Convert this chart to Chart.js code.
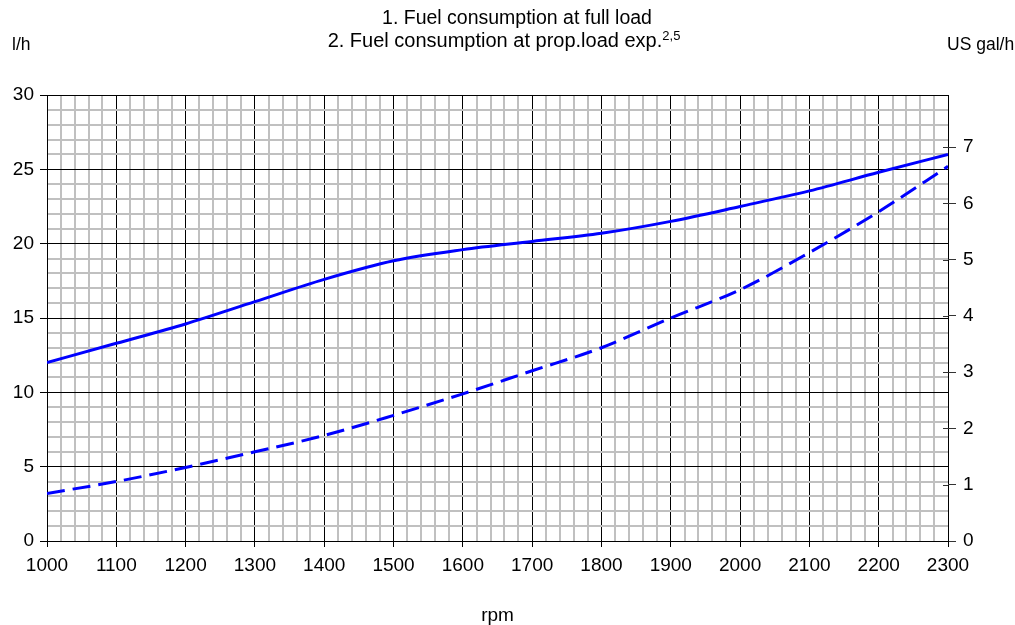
<!DOCTYPE html>
<html>
<head>
<meta charset="utf-8">
<script src="https://cdn.jsdelivr.net/npm/chart.js@4"></script>
<style>
  html, body { margin: 0; padding: 0; background: #fff; }
  #wrap { position: relative; width: 1015px; height: 625px; overflow: hidden; font-family: "Liberation Sans", Arial, sans-serif; color: #000; }
  #c { position: absolute; left: 0; top: 0; }
  .lbl { position: absolute; white-space: nowrap; font-size: 19.5px; line-height: 24px; }
  .l2 { font-size: 20px; }
  .unit { font-size: 17.5px; }
  .ctr { transform: translateX(-50%); }
  sup { font-size: 13px; vertical-align: 7px; line-height: 0; }
</style>
</head>
<body>
<div id="wrap">
  <canvas id="c" width="1015" height="625"></canvas>
  <div class="lbl ctr" style="left:517px; top:5px;">1. Fuel consumption at full load</div>
  <div class="lbl l2 ctr" style="left:504px; top:28px;">2. Fuel consumption at prop.load exp.<sup>2,5</sup></div>
  <div class="lbl unit" style="left:12px; top:32px;">l/h</div>
  <div class="lbl unit" style="left:947px; top:32px;">US gal/h</div>
</div>
<script>
// ---- data ----
const rpm = [1000, 1100, 1200, 1300, 1400, 1500, 1600, 1700, 1800, 1900, 2000, 2100, 2200, 2300];
const fullLoad = [12.0, 13.3, 14.6, 16.1, 17.6, 18.85, 19.6, 20.15, 20.7, 21.5, 22.5, 23.55, 24.8, 26.0];
const propLoad = [3.2, 4.0, 4.95, 6.0, 7.1, 8.45, 9.9, 11.45, 13.0, 15.0, 16.9, 19.4, 22.15, 25.2];
const litresPerGallon = 3.785;
const xMin = 1000, xMax = 2300, xMajor = 100, xMinor = 20;
const yMin = 0, yMax = 30, yMajor = 5, yMinor = 1;

const FONT = { family: "'Liberation Sans', Arial, sans-serif", size: 19 };
const MINOR = '#c0c0c0', MAJOR = '#000000';

function pts(ys) { return rpm.map((x, i) => ({ x: x, y: ys[i] })); }

const innerTicks = {
  id: 'innerTicks',
  afterDraw(chart) {
    const s = chart.scales.y2, ctx = chart.ctx, r = chart.chartArea.right;
    ctx.save();
    ctx.strokeStyle = '#333';
    ctx.lineWidth = 1;
    s.ticks.forEach(t => {
      if (t.value === 0) return;
      const y = Math.round(s.getPixelForValue(t.value)) + 0.5;
      ctx.beginPath();
      ctx.moveTo(r - 5, y);
      ctx.lineTo(r, y);
      ctx.stroke();
    });
    ctx.restore();
  }
};

new Chart(document.getElementById('c'), {
  type: 'line',
  data: {
    datasets: [
      { label: '1. Fuel consumption at full load', data: pts(fullLoad), borderColor: '#0000ff', borderWidth: 3,
        pointRadius: 0, fill: false, cubicInterpolationMode: 'monotone', yAxisID: 'y' },
      { label: '2. Fuel consumption at prop.load exp.2,5', data: pts(propLoad), borderColor: '#0000ff', borderWidth: 3,
        borderDash: [18, 8], pointRadius: 0, fill: false, cubicInterpolationMode: 'monotone', yAxisID: 'y' }
    ]
  },
  options: {
    responsive: false,
    animation: false,
    devicePixelRatio: 1,
    layout: { padding: { top: 95, left: 0, right: 0, bottom: 0 } },
    plugins: { legend: { display: false }, tooltip: { enabled: false } },
    scales: {
      x: {
        type: 'linear', min: xMin, max: xMax,
        ticks: {
          stepSize: xMinor, autoSkip: false, maxRotation: 0, minRotation: 0, padding: 7,
          color: '#000', font: FONT,
          callback: v => (v % xMajor === 0 ? String(v) : '')
        },
        grid: {
          color: c => (c.tick && c.tick.value % xMajor === 0 ? MAJOR : MINOR),
          lineWidth: c => (c.tick && c.tick.value % xMajor === 0 ? 1 : 2),
          tickColor: c => (c.tick && c.tick.value % xMajor === 0 ? MAJOR : 'rgba(0,0,0,0)'),
          tickLength: 6, tickWidth: 1
        },
        border: { color: '#000', width: 1 },
        title: { display: true, text: 'rpm', color: '#000', font: FONT, padding: { top: 0, bottom: -2 } },
        afterFit: s => { s.height = 84; }
      },
      y: {
        position: 'left', min: yMin, max: yMax,
        ticks: {
          stepSize: yMinor, autoSkip: false, padding: 6, color: '#000', font: FONT,
          callback: v => (v % yMajor === 0 ? String(v) : '')
        },
        grid: {
          color: c => (c.tick && c.tick.value % yMajor === 0 ? MAJOR : MINOR),
          lineWidth: c => (c.tick && c.tick.value % yMajor === 0 ? 1 : 2),
          tickColor: c => (c.tick && c.tick.value % yMajor === 0 ? MAJOR : 'rgba(0,0,0,0)'),
          tickLength: 7, tickWidth: 1
        },
        border: { color: '#000', width: 1 },
        afterFit: s => { s.width = 47; }
      },
      y2: {
        position: 'right', min: yMin, max: yMax / litresPerGallon,
        ticks: { stepSize: 1, includeBounds: false, padding: 7, color: '#000', font: FONT },
        grid: { drawOnChartArea: false, tickLength: 8, tickColor: '#333', tickWidth: 1 },
        border: { display: false },
        afterFit: s => { s.width = 67; }
      }
    }
  },
  plugins: [innerTicks]
});
</script>
</body>
</html>
